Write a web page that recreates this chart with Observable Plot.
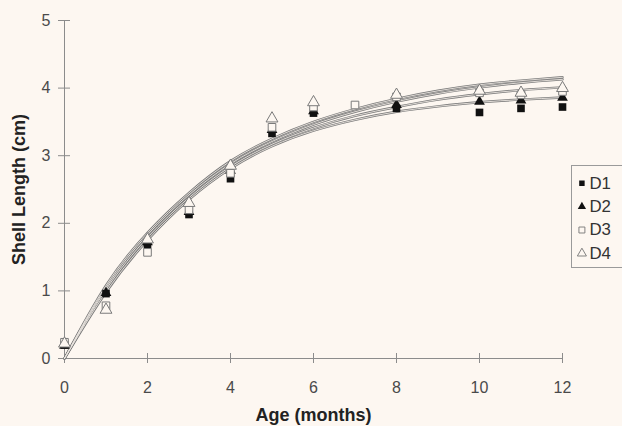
<!DOCTYPE html>
<html>
<head>
<meta charset="utf-8">
<script src="https://cdn.jsdelivr.net/npm/d3@7"></script>
<script src="https://cdn.jsdelivr.net/npm/@observablehq/plot@0.6"></script>
<style>
  html, body { margin: 0; padding: 0; background: #fdf7f1; }
  #wrap { position: relative; width: 622px; height: 426px; overflow: hidden; background: #fdf7f1; }
  #wrap svg { display: block; }
  #legend { position: absolute; left: 571px; top: 165px; width: 60px; height: 103px; border: 1px solid #9a9a9a; box-sizing: border-box; }
  #legend svg { position: absolute; left: -1px; top: -1px; }
  [aria-label="y-axis label"], [aria-label="x-axis label"] { font-weight: bold; font-size: 18px; fill: #222; }
</style>
</head>
<body>
<div id="wrap"><div id="legend"></div></div>
<script>
// ---- data ----
const seriesNames = ["D1", "D2", "D3", "D4"];

const agesD1 = [0, 1, 2, 3, 4, 5, 6, 8, 10, 11, 12];
const lenD1  = [0.20, 0.96, 1.68, 2.13, 2.66, 3.33, 3.63, 3.70, 3.64, 3.70, 3.72];

const agesD2 = [0, 1, 2, 3, 4, 5, 6, 8, 10, 11, 12];
const lenD2  = [0.19, 0.97, 1.72, 2.17, 2.78, 3.38, 3.66, 3.75, 3.80, 3.82, 3.86];

const agesD3 = [0, 1, 2, 3, 4, 5, 6, 7, 8, 10, 11, 12];
const lenD3  = [0.24, 0.78, 1.57, 2.20, 2.74, 3.42, 3.72, 3.75, 3.87, 3.93, 3.90, 3.95];

const agesD4 = [0, 1, 2, 3, 4, 5, 6, 8, 10, 11, 12];
const lenD4  = [0.22, 0.72, 1.76, 2.30, 2.85, 3.55, 3.79, 3.90, 3.96, 3.93, 4.00];

// fitted growth curves (values read at each month)
const curveAges = [0, 1, 2, 3, 4, 5, 6, 7, 8, 9, 10, 11, 12];
const curveD1 = [0, 0.98, 1.75, 2.35, 2.81, 3.14, 3.37, 3.53, 3.65, 3.73, 3.79, 3.83, 3.86];
const curveD2 = [0, 1.02, 1.79, 2.38, 2.84, 3.17, 3.41, 3.59, 3.72, 3.83, 3.91, 3.97, 4.01];
const curveD3 = [0, 1.05, 1.83, 2.42, 2.88, 3.21, 3.46, 3.65, 3.80, 3.92, 4.01, 4.08, 4.13];
const curveD4 = [0, 1.08, 1.86, 2.45, 2.92, 3.25, 3.50, 3.69, 3.84, 3.96, 4.05, 4.11, 4.16];

const xTicks = [0, 2, 4, 6, 8, 10, 12];
const yTicks = [0, 1, 2, 3, 4, 5];
const xLabel = "Age (months)";
const yLabel = "Shell Length (cm)";

// ---- build tables ----
const pts = (ages, vals) => ages.map((a, i) => ({age: a, len: vals[i]}));
const d1 = pts(agesD1, lenD1), d2 = pts(agesD2, lenD2), d3 = pts(agesD3, lenD3), d4 = pts(agesD4, lenD4);
const curves = [curveD1, curveD2, curveD3, curveD4].flatMap((c, k) =>
  curveAges.map((a, i) => ({series: seriesNames[k], age: a, len: c[i]})));

const bg = "#fdf7f1";
const axisGray = "#8c8c8c";
const font = "'Liberation Sans', Arial, sans-serif";

const plot = Plot.plot({
  width: 622,
  height: 426,
  marginLeft: 64,
  marginRight: 60,
  marginTop: 20,
  marginBottom: 68,
  x: {domain: [0, 12]},
  y: {domain: [0, 5]},
  style: {background: "transparent", fontFamily: font, fontSize: "16px", color: "#4a4a4a", overflow: "visible"},
  marks: [
    Plot.ruleX([0], {y1: 0, y2: 5, stroke: axisGray}),
    Plot.ruleY([0], {x1: 0, x2: 12, stroke: axisGray}),
    Plot.axisY(yTicks, {tickSize: 12, dx: 6, tickFormat: () => "", stroke: axisGray, label: null}),
    Plot.axisX(xTicks, {tickSize: 10, dy: -5, tickFormat: () => "", stroke: axisGray, label: null}),
    Plot.axisY(yTicks, {tickSize: 0, tickPadding: 14, tickFormat: d => String(d), fill: "#4a4a4a", label: yLabel, labelAnchor: "center", labelArrow: "none", labelOffset: 52}),
    Plot.axisX(xTicks, {tickSize: 0, tickPadding: 23, tickFormat: d => String(d), fill: "#4a4a4a", label: xLabel, labelAnchor: "center", labelArrow: "none", labelOffset: 62}),
    Plot.line(curves, {x: "age", y: "len", z: "series", curve: "natural", stroke: "#7a7a7a", strokeWidth: 2.4}),
    Plot.line(curves, {x: "age", y: "len", z: "series", curve: "natural", stroke: "#ece7e1", strokeWidth: 0.9}),
    Plot.dot(d1, {x: "age", y: "len", symbol: "square", fill: "#111", r: 4.3}),
    Plot.dot(d2, {x: "age", y: "len", symbol: "triangle", fill: "#111", r: 4.0}),
    Plot.dot(d3, {x: "age", y: "len", symbol: "square", fill: bg, stroke: "#7a7a7a", strokeWidth: 1, r: 4.3}),
    Plot.dot(d4, {x: "age", y: "len", symbol: "triangle", fill: bg, stroke: "#7a7a7a", strokeWidth: 1, r: 4.4})
  ]
});
document.getElementById("wrap").appendChild(plot);

// ---- legend: a small Plot placed in the bordered box at the right edge ----
const legendRows = seriesNames.map((name, i) => ({
  name,
  symbol: i % 2 === 0 ? "square" : "triangle",
  filled: i < 2
}));
const legend = Plot.plot({
  width: 62,
  height: 105,
  margin: 0,
  x: {domain: [0, 1], range: [0, 62], axis: null},
  y: {type: "point", domain: seriesNames, range: [18, 95], padding: 0, axis: null},
  symbol: {type: "identity"},
  style: {background: "transparent", fontFamily: font, overflow: "visible"},
  marks: [
    Plot.dot(legendRows.filter(d => d.filled), {x: () => 0.18, y: "name", symbol: "symbol", fill: "#111", r: 3.3}),
    Plot.dot(legendRows.filter(d => !d.filled), {x: () => 0.18, y: "name", symbol: "symbol", fill: bg, stroke: "#7a7a7a", strokeWidth: 1, r: 3.6}),
    Plot.text(legendRows, {x: () => 0.31, y: "name", text: "name", textAnchor: "start", fontSize: 18, fill: "#333"})
  ]
});
document.getElementById("legend").appendChild(legend);
</script>
</body>
</html>
